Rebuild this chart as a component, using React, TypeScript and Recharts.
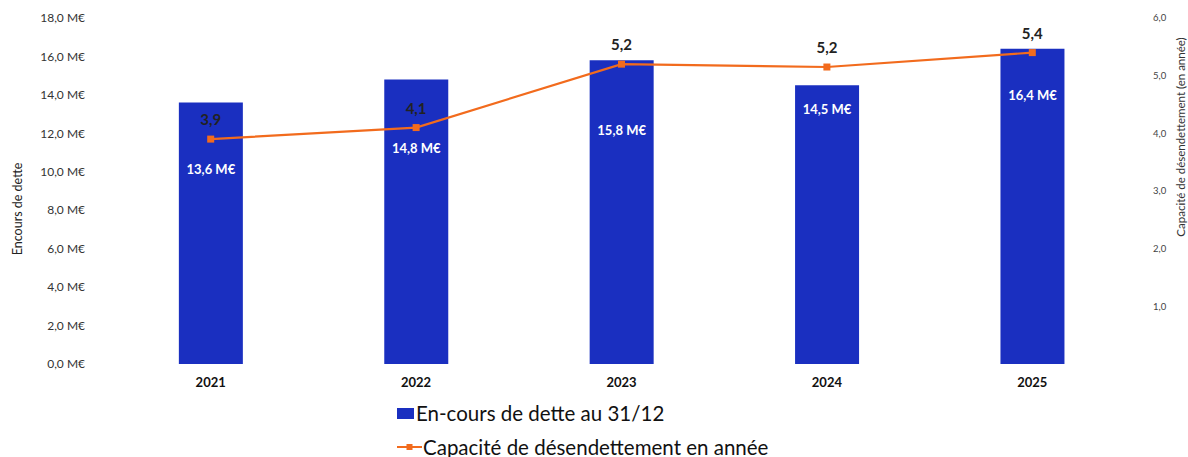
import { Bar, ComposedChart, LabelList, Line, XAxis, YAxis } from "recharts"

const years = ["2021", "2022", "2023", "2024", "2025"]
const encours = [13.6, 14.8, 15.8, 14.5, 16.4]
const capacite = [3.9, 4.1, 5.2, 5.15, 5.4]
const leftTicks = [0, 2, 4, 6, 8, 10, 12, 14, 16, 18]
const rightTicks = [1, 2, 3, 4, 5, 6]

// distance from bar top to the centre of the white value label
const barLabelDrop = [66, 68, 70, 24, 46]

const data = years.map((year, i) => ({ year, encours: encours[i], capacite: capacite[i] }))

const BLUE = "#1a2fc0"
const ORANGE = "#f26b1d"
const FONT = "Lato, 'Open Sans', sans-serif"

const fr = (v: number, d = 1) => v.toFixed(d).replace(".", ",")

const BarValue = (props: any) => {
  const { x, y, width, index, value } = props
  return (
    <text
      x={x + width / 2}
      y={y + barLabelDrop[index]}
      textAnchor="middle"
      dominantBaseline="central"
      fill="#fff"
      fontSize={13}
      fontWeight={700}
      fontFamily={FONT}
    >
      {fr(value)} M€
    </text>
  )
}

const LineValue = (props: any) => {
  const { x, y, value } = props
  return (
    <text
      x={x}
      y={y - 20}
      textAnchor="middle"
      dominantBaseline="central"
      fill="#222"
      fontSize={15}
      fontWeight={700}
      fontFamily={FONT}
    >
      {fr(value)}
    </text>
  )
}

const SquareDot = (props: any) => {
  const { cx, cy } = props
  return <rect x={cx - 3.5} y={cy - 3.5} width={7} height={7} fill={ORANGE} />
}

export default function App() {
  return (
    <div style={{ position: "absolute", left: 0, top: 0, width: 1188, height: 457, background: "#fff", fontFamily: FONT }}>
      <ComposedChart
        width={1188}
        height={457}
        data={data}
        margin={{ top: 18, right: 0, bottom: 63, left: 0 }}
        barCategoryGap="34.5%"
      >
        <XAxis
          dataKey="year"
          axisLine={false}
          tickLine={false}
          tickSize={0}
          tickMargin={14}
          height={30}
          tick={{ fill: "#111", fontSize: 13, fontWeight: 700, fontFamily: FONT }}
        />
        <YAxis
          yAxisId="left"
          domain={[0, 18]}
          ticks={leftTicks}
          axisLine={false}
          tickLine={false}
          tickSize={0}
          tickMargin={23}
          width={108}
          tickFormatter={(v: number) => `${fr(v)} M€`}
          tick={{ fill: "#333", fontSize: 12, fontFamily: FONT }}
          label={{
            value: "Encours de dette",
            angle: -90,
            position: "insideLeft",
            dx: 13,
            dy: 18,
            style: { fill: "#222", fontSize: 12.5, fontFamily: FONT, textAnchor: "middle" },
          }}
        />
        <YAxis
          yAxisId="right"
          orientation="right"
          domain={[0, 6]}
          ticks={rightTicks}
          axisLine={false}
          tickLine={false}
          tickSize={0}
          tickMargin={18}
          width={53}
          tickFormatter={(v: number) => fr(v)}
          tick={{ fill: "#444", fontSize: 9.5, fontFamily: FONT }}
          label={{
            value: "Capacité de désendettement (en année)",
            angle: -90,
            position: "insideRight",
            dx: -2,
            dy: -54,
            style: { fill: "#333", fontSize: 11.5, fontFamily: FONT, textAnchor: "middle" },
          }}
        />
        <Bar yAxisId="left" dataKey="encours" fill={BLUE} isAnimationActive={false}>
          <LabelList dataKey="encours" content={BarValue} />
        </Bar>
        <Line
          yAxisId="right"
          dataKey="capacite"
          type="linear"
          stroke={ORANGE}
          strokeWidth={2.2}
          dot={<SquareDot />}
          activeDot={false}
          isAnimationActive={false}
        >
          <LabelList dataKey="capacite" content={LineValue} />
        </Line>
      </ComposedChart>
      <div style={{ position: "absolute", left: 397, top: 399, fontSize: 20.5, color: "#111", lineHeight: "28px" }}>
        <div style={{ display: "flex", alignItems: "center" }}>
          <span style={{ display: "inline-block", width: 17, height: 11, background: BLUE, marginRight: 2 }} />
          En-cours de dette au 31/12
        </div>
        <div style={{ display: "flex", alignItems: "center", marginTop: 6 }}>
          <svg width={25} height={10} style={{ marginRight: 1 }}>
            <line x1={0} y1={5} x2={25} y2={5} stroke={ORANGE} strokeWidth={2} />
            <rect x={9.5} y={2} width={6} height={6} fill={ORANGE} />
          </svg>
          Capacité de désendettement en année
        </div>
      </div>
    </div>
  )
}
